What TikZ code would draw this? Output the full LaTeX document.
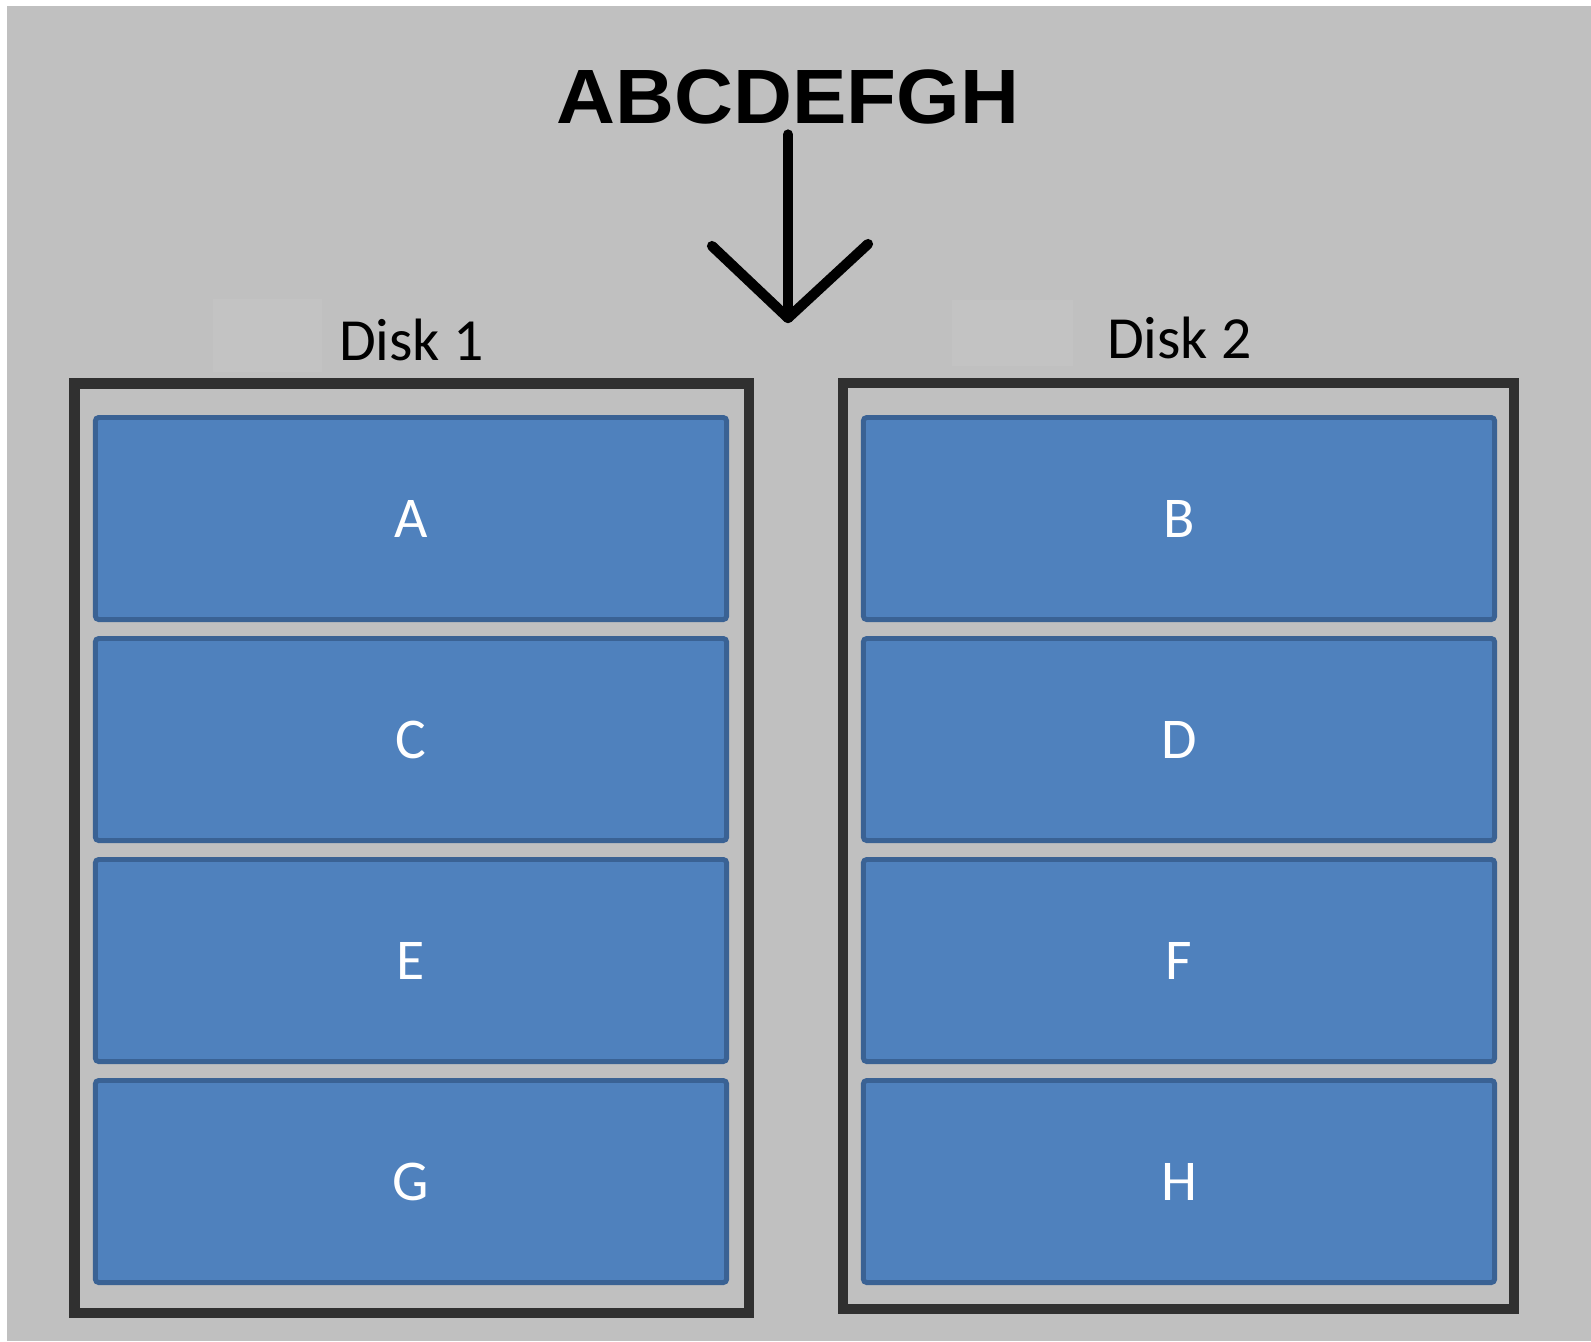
\documentclass[tikz,border=0pt]{standalone}
\usepackage{fontspec}
\setmainfont{Carlito}
\newfontfamily\arialfont{Liberation Sans}
\usetikzlibrary{positioning}

\definecolor{bggray}{HTML}{C0C0C0}
\definecolor{bglight}{HTML}{C3C3C3}
\definecolor{chunkblue}{HTML}{4F81BD}
\definecolor{chunkedge}{HTML}{3A6294}
\definecolor{framegray}{HTML}{303030}

\tikzset{
  chunk/.style={draw=chunkedge, fill=chunkblue, line width=1.4pt, rounded corners=1pt,
    minimum width=6.31cm, minimum height=2.02cm, inner sep=0pt, text=white,
    font=\fontsize{16.4}{20}\selectfont},
  diskframe/.style={draw=framegray, line width=2.9pt},
  disklabel/.style={anchor=base, inner sep=0pt, font=\fontsize{17}{20}\selectfont},
  arrowline/.style={line width=2.9pt, line cap=round, line join=round}
}

\begin{document}
\begin{tikzpicture}[x=0.01cm, y=-0.01cm]
        % canvas
        \fill[white] (0,0) rectangle (1591,1341);
        \fill[bggray] (7,6) rectangle (1591,1341);
        \fill[bglight] (213,299) rectangle (322,372);
        \fill[bglight] (952,300) rectangle (1073,366);

        % data to be striped
        \node[anchor=base, inner ysep=0.1cm, inner xsep=0pt, xscale=1.06,
              font=\arialfont\bfseries\fontsize{21.9}{26}\selectfont] (title) at (788,123) {ABCDEFGH};

        % arrow down
        \coordinate (tip) at (788,318);
        \coordinate (barbL) at (712,246);
        \coordinate (barbR) at (868,244);
        \draw[arrowline] (title.south) -- (tip);
        \draw[arrowline] (barbL) -- (tip) -- (barbR);

        % disks
        \draw[diskframe] (74.5,383.5) rectangle (749,1313);
        \draw[diskframe] (843,383) rectangle (1514,1309);
        \node[disklabel] (disk1) at (411.5,360) {Disk 1};
        \node[disklabel] (disk2) at (1179.5,358) {Disk 2};

        % blocks
        \foreach \l/\r [count=\i from 0] in {A/B, C/D, E/F, G/H} {
            \node[chunk] (d1-\l) at (411, 518.5+221*\i) {\l};
            \node[chunk] (d2-\r) at (1179, 518.5+221*\i) {\r};
        }
\end{tikzpicture}
\end{document}
